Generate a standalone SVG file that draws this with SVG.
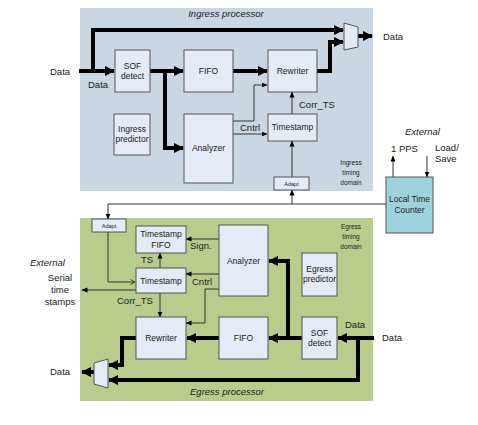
<svg xmlns="http://www.w3.org/2000/svg" width="478" height="425" viewBox="0 0 478 425">
<style>
text{font-family:"Liberation Sans",Arial,sans-serif;fill:#222;}
.box{fill:#e4eaf6;stroke:#555;stroke-width:1;}
.lbl{font-size:8.5px;text-anchor:middle;}
.ext{font-size:9.5px;}
.it{font-style:italic;}
.sm{font-size:6.5px;text-anchor:middle;}
.tiny{font-size:5.5px;text-anchor:middle;}
.thick{fill:none;stroke:#000;stroke-width:4;stroke-linejoin:miter;marker-end:url(#ah);}
.thickn{fill:none;stroke:#000;stroke-width:4;}
.thin{fill:none;stroke:#333;stroke-width:1;marker-end:url(#at);}
</style>
<defs>
<marker id="ah" markerUnits="userSpaceOnUse" markerWidth="10" markerHeight="10" refX="9" refY="5" orient="auto"><path d="M0,0 L10,5 L0,10 z" fill="#000"/></marker>
<marker id="at" markerUnits="userSpaceOnUse" markerWidth="6" markerHeight="6" refX="5.5" refY="3" orient="auto"><path d="M0,0.5 L6,3 L0,5.5 z" fill="#000"/></marker>
<marker id="ao" markerUnits="userSpaceOnUse" markerWidth="6" markerHeight="6" refX="5.5" refY="3" orient="auto"><path d="M1,0.5 L5.5,3 L1,5.5" fill="none" stroke="#333" stroke-width="0.9"/></marker>
</defs>

<!-- panels -->
<rect x="80" y="8" width="293" height="183" fill="#c9d6e4"/>
<rect x="80" y="218" width="293" height="183" fill="#b9cc8b"/>
<text x="226" y="17" class="ext it" text-anchor="middle" font-size="9">Ingress processor</text>
<text x="227" y="395" class="ext it" text-anchor="middle" font-size="9">Egress processor</text>
<text class="sm"><tspan x="351" y="165">Ingress</tspan><tspan x="351" y="175">timing</tspan><tspan x="351" y="185">domain</tspan></text>
<text class="sm"><tspan x="351" y="229">Egress</tspan><tspan x="351" y="239">timing</tspan><tspan x="351" y="249">domain</tspan></text>

<!-- connectors -->
<g id="connectors">
<path class="thick" d="M79,71 H114"/>
<path class="thick" d="M93,71 V30 H343"/>
<path class="thick" d="M150,71 H183"/>
<path class="thick" d="M165,71 V148 H183"/>
<path class="thick" d="M233,71 H267"/>
<path class="thick" d="M317,71 H330 V42 H343"/>
<path class="thick" d="M358,36 H372"/>
<path class="thin" d="M233,121 H254 V85 H267"/>
<path class="thin" d="M233,134 H267"/>
<path class="thin" d="M292,114 V92"/>
<path class="thin" d="M292,177 V141"/>
<path class="thin" d="M386,204 H108 V219"/>
<path class="thin" d="M292,204 V190"/>
<path class="thin" d="M393,177 V156"/>
<path class="thin" d="M427,156 V177"/>

<path class="thick" d="M374,338 H338"/>
<path class="thickn" d="M358,338 V380 H110"/>
<path class="thick" d="M130,380 H109"/>
<path class="thick" d="M302,338 H269"/>
<path class="thick" d="M288,338 V261 H269"/>
<path class="thick" d="M219,338 H187"/>
<path class="thick" d="M136,338 H122 V365 H109"/>
<path class="thick" d="M94,372 H82"/>
<path class="thin" d="M219,239 H186"/>
<path class="thin" d="M219,274 H186"/>
<path class="thin" d="M219,289 H205 V323 H186"/>
<path class="thin" d="M160,268 V253"/>
<path class="thin" d="M160,293 V317"/>
<path d="M108,232 V282 H135" fill="none" stroke="#333" stroke-width="1" marker-end="url(#ao)"/>
<path class="thin" d="M136,290 H82"/>
</g>

<!-- ingress nodes -->
<g id="sof_in"><rect class="box" x="115" y="50" width="35" height="42"/><text class="lbl"><tspan x="132.5" y="69">SOF</tspan><tspan x="132.5" y="79">detect</tspan></text></g>
<g id="fifo_in"><rect class="box" x="184" y="50" width="49" height="42"/><text class="lbl" x="208.5" y="74">FIFO</text></g>
<g id="rewriter_in"><rect class="box" x="268" y="50" width="49" height="42"/><text class="lbl" x="292.5" y="74">Rewriter</text></g>
<g id="predictor_in"><rect class="box" x="114" y="114" width="36" height="41"/><text class="lbl"><tspan x="132" y="132">Ingress</tspan><tspan x="132" y="142">predictor</tspan></text></g>
<g id="analyzer_in"><rect class="box" x="184" y="114" width="49" height="69"/><text class="lbl" x="208.5" y="151">Analyzer</text></g>
<g id="timestamp_in"><rect class="box" x="268" y="114" width="49" height="27"/><text class="lbl" x="292.5" y="130">Timestamp</text></g>
<g id="adapt_in"><rect class="box" x="274" y="177" width="35" height="13"/><text class="tiny" x="291.5" y="186">Adapt</text></g>
<g id="mux_in"><polygon points="344,23 358,27 358,47 344,50" fill="#e4eaf6" stroke="#555" stroke-width="1"/></g>

<!-- LTC -->
<g id="ltc"><rect x="386" y="177" width="47" height="56" fill="#9ed3de" stroke="#555" stroke-width="1"/><text class="lbl"><tspan x="409.5" y="202">Local Time</tspan><tspan x="409.5" y="213">Counter</tspan></text></g>

<!-- egress nodes -->
<g id="adapt_eg"><rect class="box" x="92" y="219" width="34" height="13"/><text class="tiny" x="109" y="228">Adapt</text></g>
<g id="tsfifo_eg"><rect class="box" x="136" y="226" width="50" height="27"/><text class="lbl"><tspan x="161" y="237">Timestamp</tspan><tspan x="161" y="248">FIFO</tspan></text></g>
<g id="timestamp_eg"><rect class="box" x="136" y="268" width="50" height="25"/><text class="lbl" x="161" y="284">Timestamp</text></g>
<g id="analyzer_eg"><rect class="box" x="219" y="225" width="49" height="71"/><text class="lbl" x="243.5" y="264">Analyzer</text></g>
<g id="predictor_eg"><rect class="box" x="302" y="253" width="35" height="43"/><text class="lbl"><tspan x="319.5" y="272">Egress</tspan><tspan x="319.5" y="282">predictor</tspan></text></g>
<g id="rewriter_eg"><rect class="box" x="136" y="317" width="50" height="42"/><text class="lbl" x="161" y="341">Rewriter</text></g>
<g id="fifo_eg"><rect class="box" x="219" y="317" width="49" height="42"/><text class="lbl" x="243.5" y="341">FIFO</text></g>
<g id="sof_eg"><rect class="box" x="302" y="317" width="35" height="42"/><text class="lbl"><tspan x="319.5" y="336">SOF</tspan><tspan x="319.5" y="346">detect</tspan></text></g>
<g id="mux_eg"><polygon points="108,359 94,363 94,384 108,388" fill="#e4eaf6" stroke="#555" stroke-width="1"/></g>

<!-- labels -->
<text class="ext" x="50" y="75">Data</text>
<text class="ext" x="88" y="88">Data</text>
<text class="ext" x="383" y="40">Data</text>
<text class="ext" x="240" y="131">Cntrl</text>
<text class="ext" x="299" y="108">Corr_TS</text>
<text class="ext it" x="405" y="135">External</text>
<text class="ext" x="391" y="152">1 PPS</text>
<text class="ext"><tspan x="435" y="151">Load/</tspan><tspan x="435" y="162">Save</tspan></text>

<text class="ext" x="382" y="341">Data</text>
<text class="ext" x="345" y="328">Data</text>
<text class="ext" x="50" y="375">Data</text>
<text class="ext" x="190" y="249">Sign.</text>
<text class="ext" x="192" y="285">Cntrl</text>
<text class="ext" x="141" y="263">TS</text>
<text class="ext" x="117" y="304">Corr_TS</text>
<text class="ext it" x="30" y="266">External</text>
<text class="ext" text-anchor="middle"><tspan x="60" y="281">Serial</tspan><tspan x="60" y="293">time</tspan><tspan x="60" y="305">stamps</tspan></text>
</svg>
